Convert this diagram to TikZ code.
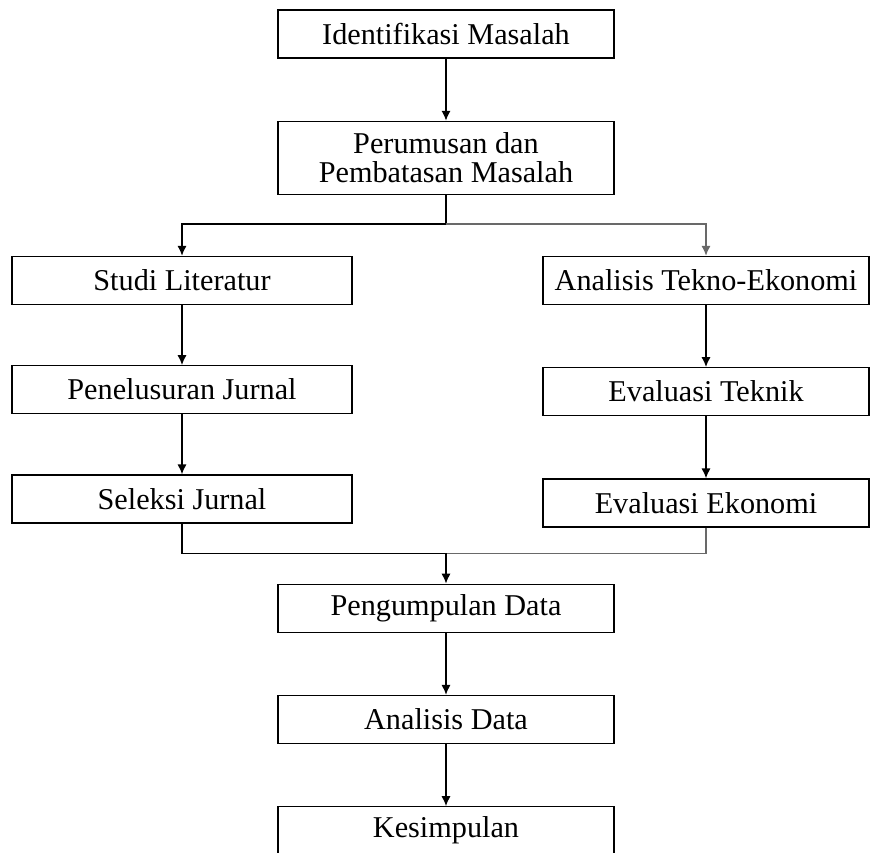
\documentclass[tikz,border=0pt]{standalone}
\usepackage{fontspec}
\setmainfont{Liberation Serif}
\usepackage{xcolor}
\usepackage{tikz}
\usetikzlibrary{arrows.meta, positioning}
\definecolor{linegray}{RGB}{105, 105, 105}

\begin{document}
\begin{tikzpicture}[
    node distance=1.5cm,
    box/.style={draw, line width=0.9pt, minimum width=8.4cm, minimum height=1.2cm, align=center, font=\fontsize{21.5}{21}\selectfont},
    arrow/.style={-{Latex[length=7pt, width=6.5pt]}, line width=0.9pt},
    garrow/.style={-{Latex[length=7pt, width=6.5pt]}, line width=0.9pt, color=linegray}
]
    \useasboundingbox (0,0) rectangle (21.8,-21.3);
    \clip (0,0) rectangle (21.8,-21.3);

    \node[box] (ident) at (11.15,-0.85) {Identifikasi Masalah};
    \node[box, minimum height=1.825cm, below=1.55cm of ident] (perum) {Perumusan dan\\Pembatasan Masalah};

    % cabang kiri
    \node[box, minimum width=8.5cm, below=1.52cm of perum, xshift=-6.6cm] (studi) {Studi Literatur};
    \node[box, minimum width=8.5cm, below=of studi] (telusur) {Penelusuran Jurnal};
    \node[box, minimum width=8.5cm, below=of telusur] (seleksi) {Seleksi Jurnal};

    % cabang kanan
    \node[box, minimum width=8.15cm, below=1.52cm of perum, xshift=6.5cm] (tekno) {Analisis Tekno-Ekonomi};
    \node[box, minimum width=8.15cm, below=1.55cm of tekno] (evteknik) {Evaluasi Teknik};
    \node[box, minimum width=8.15cm, below=1.55cm of evteknik] (evekonomi) {Evaluasi Ekonomi};

    \node[box, below=of seleksi, xshift=6.6cm] (kumpul) {Pengumpulan Data};
    \node[box, below=1.55cm of kumpul] (analisis) {Analisis Data};
    \node[box, below=1.55cm of analisis] (simpul) {Kesimpulan};

    \coordinate[below=0.725cm of perum.south] (split);
    \coordinate[above=0.75cm of kumpul.north] (merge);

    \draw[arrow] (ident) -- (perum);
    \draw[arrow] (perum.south) -- (split) -| (studi.north);
    \draw[garrow] (split) -| (tekno.north);

    \draw[arrow] (studi) -- (telusur);
    \draw[arrow] (telusur) -- (seleksi);
    \draw[arrow] (tekno) -- (evteknik);
    \draw[arrow] (evteknik) -- (evekonomi);

    \draw[line width=0.9pt, color=linegray] (evekonomi.south) |- (merge);
    \draw[arrow] (seleksi.south) |- (merge) -- (kumpul.north);

    \draw[arrow] (kumpul) -- (analisis);
    \draw[arrow] (analisis) -- (simpul);
\end{tikzpicture}
\end{document}
